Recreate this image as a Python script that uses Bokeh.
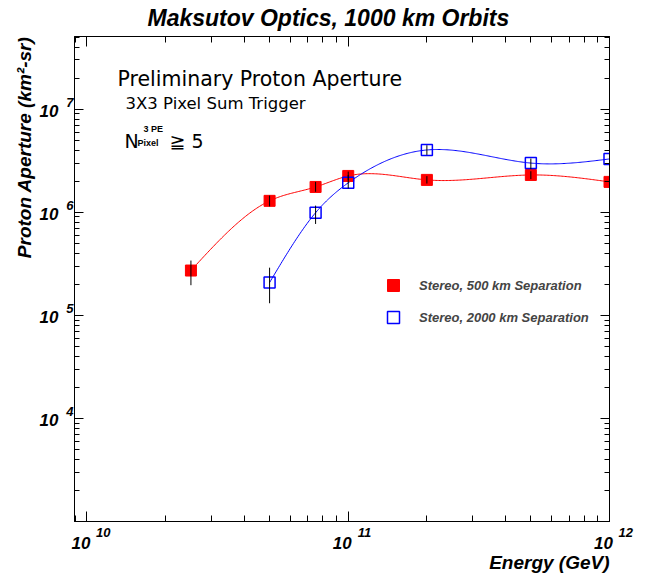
import numpy as np
from bokeh.plotting import figure
from bokeh.models import (Range1d, LogAxis, FixedTicker, Label, Legend,
                          LegendItem, CustomJSTickFormatter, Title)
from bokeh.embed import file_html
from bokeh.resources import INLINE

# ---------------- data ----------------
red_energy = [2.5e10, 5e10, 7.5e10, 1e11, 2e11, 5e11, 1e12]
red_aperture = [2.72e5, 1.29e6, 1.76e6, 2.25e6, 2.06e6, 2.30e6, 1.97e6]
red_err_low = [1.96e5, 1.14e6, 1.58e6, 2.06e6, 1.90e6, 2.10e6, 1.82e6]
red_err_high = [3.40e5, 1.45e6, 1.97e6, 2.48e6, 2.24e6, 2.50e6, 2.12e6]

blue_energy = [5e10, 7.5e10, 1e11, 2e11, 5e11, 1e12]
blue_aperture = [2.08e5, 9.9e5, 1.93e6, 4.02e6, 3.00e6, 3.29e6]
blue_err_low = [1.31e5, 7.7e5, 1.70e6, 3.60e6, 2.62e6, 3.02e6]
blue_err_high = [2.90e5, 1.16e6, 2.30e6, 4.47e6, 3.32e6, 3.58e6]

series_labels = ["Stereo, 500 km Separation", "Stereo, 2000 km Separation"]
title_text = "Maksutov Optics, 1000 km Orbits"
x_title = "Energy (GeV)"
y_title = "Proton Aperture (km\u00b2-sr)"
x_tick_exponents = [10, 11, 12]
y_tick_exponents = [4, 5, 6, 7]
note_lines = ["Preliminary Proton Aperture", "3X3 Pixel Sum Trigger"]

XLO, XHI = 8.96e9, 1.0e12
YLO, YHI = 1.0e3, 5.07e7

# ---------------- geometry helpers ----------------
FL, FR, FT, FB = 74, 609, 36, 521  # frame edges in page pixels
LX0, LX1 = np.log10(XLO), np.log10(XHI)
LY0, LY1 = np.log10(YLO), np.log10(YHI)
DPX = (FR - FL) / (LX1 - LX0)   # pixels per decade, x
DPY = (FB - FT) / (LY1 - LY0)   # pixels per decade, y


def px2x(px):
    return float(10 ** (LX0 + (px - FL) / DPX))


def py2y(py):
    return float(10 ** (LY1 - (py - FT) / DPY))


def natural_spline(xs, ys, n=300):
    x = np.log10(np.asarray(xs, float))
    y = np.log10(np.asarray(ys, float))
    m = len(x)
    h = np.diff(x)
    A = np.zeros((m, m))
    b = np.zeros(m)
    A[0, 0] = 1
    A[-1, -1] = 1
    for i in range(1, m - 1):
        A[i, i - 1] = h[i - 1]
        A[i, i] = 2 * (h[i - 1] + h[i])
        A[i, i + 1] = h[i]
        b[i] = 3 * ((y[i + 1] - y[i]) / h[i] - (y[i] - y[i - 1]) / h[i - 1])
    c = np.linalg.solve(A, b)
    xx = np.linspace(x[0], x[-1], n)
    idx = np.clip(np.searchsorted(x, xx) - 1, 0, m - 2)
    d = xx - x[idx]
    hi = h[idx]
    bc = (y[idx + 1] - y[idx]) / hi - hi * (2 * c[idx] + c[idx + 1]) / 3
    dc = (c[idx + 1] - c[idx]) / (3 * hi)
    yy = y[idx] + bc * d + c[idx] * d ** 2 + dc * d ** 3
    return (10 ** xx).tolist(), (10 ** yy).tolist()


# ---------------- figure ----------------
p = figure(frame_width=FR - FL, frame_height=FB - FT,
           x_axis_type="log", y_axis_type="log",
           x_range=Range1d(XLO, XHI), y_range=Range1d(YLO, YHI),
           output_backend="svg", toolbar_location=None,
           min_border_left=FL, min_border_right=646 - FR,
           min_border_top=FT, min_border_bottom=576 - FB)
p.xgrid.visible = False
p.ygrid.visible = False
p.outline_line_color = "black"
p.outline_line_width = 1
p.background_fill_color = "white"
p.border_fill_color = "white"

xmaj = [10.0 ** k for k in range(9, 13)]
xmin = [m * 10.0 ** k for k in range(9, 12) for m in range(2, 10)]
ymaj = [10.0 ** k for k in range(2, 9)]
ymin = [m * 10.0 ** k for k in range(2, 8) for m in range(2, 10)]

BLANK = CustomJSTickFormatter(code="return ''")


def tick_axis(ax, major_len, minor_len):
    ax.formatter = BLANK
    ax.major_tick_in = major_len
    ax.major_tick_out = 0
    ax.minor_tick_in = minor_len
    ax.minor_tick_out = 0
    ax.major_label_text_font_size = "1px"
    ax.major_label_text_alpha = 0
    ax.major_label_standoff = 0
    ax.axis_line_color = "black"
    ax.major_tick_line_color = "black"
    ax.minor_tick_line_color = "black"


def label_axis(ax, ticks, code, size, standoff):
    ax.ticker = FixedTicker(ticks=ticks, minor_ticks=[])
    ax.formatter = CustomJSTickFormatter(code=code)
    ax.axis_line_color = None
    ax.major_tick_line_color = None
    ax.minor_tick_line_color = None
    ax.major_tick_in = 0
    ax.major_tick_out = 0
    ax.minor_tick_in = 0
    ax.minor_tick_out = 0
    ax.major_label_standoff = standoff
    ax.major_label_text_font = "Liberation Sans"
    ax.major_label_text_font_style = "bold italic"
    ax.major_label_text_font_size = size
    ax.major_label_text_color = "black"


# tick-only axes on all four sides
for ax in p.xaxis:
    ax.ticker = FixedTicker(ticks=xmaj, minor_ticks=xmin)
    tick_axis(ax, 10, 6)
for ax in p.yaxis:
    ax.ticker = FixedTicker(ticks=ymaj, minor_ticks=ymin)
    tick_axis(ax, 9, 5)
top = LogAxis(ticker=FixedTicker(ticks=xmaj, minor_ticks=xmin))
tick_axis(top, 10, 6)
p.add_layout(top, "above")
right = LogAxis(ticker=FixedTicker(ticks=ymaj, minor_ticks=ymin))
tick_axis(right, 9, 5)
p.add_layout(right, "right")

# ROOT-style "10^n" tick labels: exponent row, then mantissa row
x_exp_ticks = [10.0 ** e for e in x_tick_exponents]
x_man_ticks = [10.0 ** (e - 6.0 / DPX) for e in x_tick_exponents]
x_exp_axis = LogAxis()
label_axis(x_exp_axis, x_exp_ticks,
           "return '\\u2003\\u2003\\u2002' + Math.round(Math.log10(tick))",
           "13px", 3)
p.add_layout(x_exp_axis, "below")
x_man_axis = LogAxis()
label_axis(x_man_axis, x_man_ticks, "return '10'", "17px", -6)
p.add_layout(x_man_axis, "below")

y_exp_ticks = [10.0 ** (e + 6.5 / DPY) for e in y_tick_exponents]
y_man_ticks = [10.0 ** (e - 2.0 / DPY) for e in y_tick_exponents]
y_exp_axis = LogAxis()
label_axis(y_exp_axis, y_exp_ticks,
           "return String(Math.round(Math.log10(tick)))", "13px", 1)
p.add_layout(y_exp_axis, "left")
y_man_axis = LogAxis()
label_axis(y_man_axis, y_man_ticks, "return '10'", "17px", 5)
p.add_layout(y_man_axis, "left")

# titles
p.title.text = title_text
p.title.align = "left"
p.title.offset = 73
p.title.vertical_align = "top"
p.title.text_font = "Liberation Sans"
p.title.text_font_style = "bold italic"
p.title.text_font_size = "23px"
p.title.text_color = "black"
p.title.standoff = 8

p.add_layout(Title(text=x_title, align="right", standoff=-4,
                   text_font="Liberation Sans", text_font_style="bold italic",
                   text_font_size="19px", text_color="black"), "below")
p.add_layout(Title(text=y_title, align="right", standoff=4,
                   text_font="Liberation Sans", text_font_style="bold italic",
                   text_font_size="19px", text_color="black"), "left")

# ---------------- curves, markers, errors ----------------
rx, ry = natural_spline(red_energy, red_aperture)
bx, by = natural_spline(blue_energy, blue_aperture)
p.line(rx, ry, line_color="red", line_width=1)
p.line(bx, by, line_color="blue", line_width=1)

r_red = p.scatter(red_energy, red_aperture, marker="square", size=11,
                  fill_color="red", line_color="red")
r_blue = p.scatter(blue_energy, blue_aperture, marker="square", size=11,
                   fill_color=None, line_color="blue", line_width=1.5)
p.segment(x0=red_energy, y0=red_err_low, x1=red_energy, y1=red_err_high,
          line_color="black", line_width=1)
p.segment(x0=blue_energy, y0=blue_err_low, x1=blue_energy, y1=blue_err_high,
          line_color="black", line_width=1)

legend = Legend(items=[LegendItem(label=series_labels[0], renderers=[r_red]),
                       LegendItem(label=series_labels[1], renderers=[r_blue])],
                location=(304, 189), orientation="vertical",
                padding=0, margin=0, spacing=2,
                glyph_width=30, glyph_height=30, label_height=30,
                label_standoff=11,
                label_text_font="Liberation Sans",
                label_text_font_style="bold italic",
                label_text_font_size="13px",
                border_line_alpha=0, background_fill_alpha=0)
p.add_layout(legend, "center")

# ---------------- in-frame notes ----------------
NF = dict(text_font="DejaVu Sans", text_color="black",
          text_baseline="alphabetic", text_align="left")
p.add_layout(Label(x=px2x(117), y=py2y(78), text=note_lines[0],
                   text_font_size="20.5px", **NF))
p.add_layout(Label(x=px2x(125), y=py2y(103), text=note_lines[1],
                   text_font_size="16.5px", **NF))
p.add_layout(Label(x=px2x(124), y=py2y(140), text="N",
                   text_font_size="19px", **NF))
SB = dict(text_font="Liberation Sans", text_font_style="bold",
          text_color="black", text_baseline="alphabetic", text_align="left")
p.add_layout(Label(x=px2x(137), y=py2y(142), text="Pixel",
                   text_font_size="9px", **SB))
p.add_layout(Label(x=px2x(143), y=py2y(128), text="3 PE",
                   text_font_size="9px", **SB))
p.add_layout(Label(x=px2x(169), y=py2y(140), text="\u2267 5",
                   text_font_size="19px", **NF))

open("out.html", "w").write(file_html(p, INLINE))
